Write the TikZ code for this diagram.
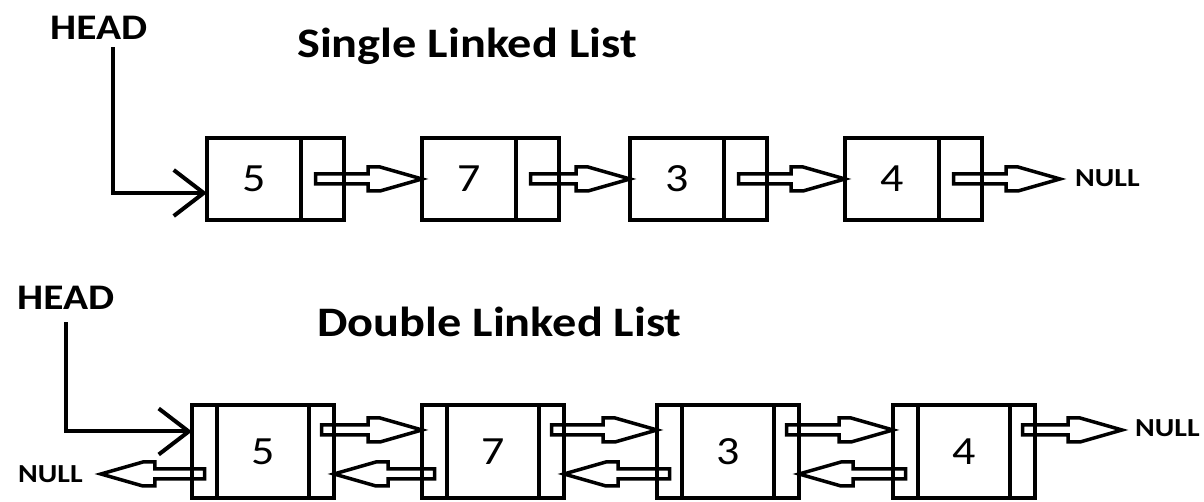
\documentclass[tikz,border=0pt]{standalone}
\usepackage{fontspec}
\setmainfont{Carlito}[FakeStretch=1.15]
\usetikzlibrary{positioning,calc,arrows.meta}

\tikzset{
  cell/.style={draw, line width=4pt, inner sep=0pt, outer sep=0pt,
    font=\fontsize{40}{44}\selectfont},
  sval/.style={cell, minimum width=94pt, minimum height=82pt, anchor=west},
  sptr/.style={cell, minimum width=43pt, minimum height=82pt},
  dval/.style={cell, minimum width=92pt, minimum height=93pt},
  dside/.style={cell, minimum width=25pt, minimum height=93pt, anchor=west},
  hd/.style={inner sep=0pt, anchor=base west, font=\bfseries\fontsize{36}{40}\selectfont},
  ttl/.style={inner sep=0pt, anchor=base west, font=\bfseries\fontsize{42}{46}\selectfont},
  nul/.style={inner sep=0pt, anchor=base west, font=\bfseries\fontsize{26}{30}\selectfont},
  headarrow/.style={draw, line width=4pt, -{Straight Barb[length=30pt,width=46pt]}},
  % hollow pointer arrow, horizontal, drawn at the height of its start
  ptr/.style={draw, line width=3.5pt, line join=miter,
    to path={let \p1=(\tikztostart), \p2=(\tikztotarget),
      \n1={ifthenelse(\x2>\x1,1,-1)} in
      (\x1,{\y1+5pt}) -- ({\x2-(\n1)*54pt},{\y1+5pt})
      -- ({\x2-(\n1)*54pt},{\y1+12pt}) -- ({\x2-(\n1)*42pt},{\y1+12pt})
      -- (\x2,\y1)
      -- ({\x2-(\n1)*42pt},{\y1-12pt}) -- ({\x2-(\n1)*54pt},{\y1-12pt})
      -- ({\x2-(\n1)*54pt},{\y1-5pt}) -- (\x1,{\y1-5pt}) -- cycle}},
}

\begin{document}
\begin{tikzpicture}[x=1pt, y=1pt]
  \useasboundingbox (0,0) rectangle (1204,502);

  % Single linked list
  \node[hd] (head1) at (50,462) {HEAD};
  \node[ttl] (title1) at (297,444) {Single Linked List};

  \node[sval] (s1) at (207,323) {5};
  \node[sptr, right=0pt of s1] (s1p) {};
  \node[sval] (s2) at (422,323) {7};
  \node[sptr, right=0pt of s2] (s2p) {};
  \node[sval] (s3) at (630,323) {3};
  \node[sptr, right=0pt of s3] (s3p) {};
  \node[sval] (s4) at (845,323) {4};
  \node[sptr, right=0pt of s4] (s4p) {};
  \node[nul] (null1) at (1075,315) {NULL};

  \draw[headarrow] ([xshift=14pt,yshift=-7pt]head1.south) |- ([yshift=-14pt]s1.west);
  \draw[ptr] ([xshift=-7pt]s1p.center) to (s2.west);
  \draw[ptr] ([xshift=-7pt]s2p.center) to (s3.west);
  \draw[ptr] ([xshift=-7pt]s3p.center) to (s4.west);
  \draw[ptr] ([xshift=-7pt]s4p.center) to ([xshift=-15pt]null1.west);

  % Double linked list
  \node[hd] (head2) at (17,192) {HEAD};
  \node[ttl] (title2) at (317,165) {Double Linked List};

  \node[dside] (d1l) at (192,50.5) {};
  \node[dval, right=0pt of d1l] (d1) {5};
  \node[dside, right=0pt of d1] (d1r) {};
  \node[dside] (d2l) at (422,50.5) {};
  \node[dval, right=0pt of d2l] (d2) {7};
  \node[dside, right=0pt of d2] (d2r) {};
  \node[dside] (d3l) at (657,50.5) {};
  \node[dval, right=0pt of d3l] (d3) {3};
  \node[dside, right=0pt of d3] (d3r) {};
  \node[dside] (d4l) at (893,50.5) {};
  \node[dval, right=0pt of d4l] (d4) {4};
  \node[dside, right=0pt of d4] (d4r) {};
  \node[nul] (null2) at (18,19) {NULL};
  \node[nul] (null3) at (1135,65) {NULL};

  \draw[headarrow] ([yshift=-12pt]head2.south) |- ([yshift=20pt]d1l.west);
  \draw[ptr] ([yshift=21.5pt]d1r.center) to (d2l.west);
  \draw[ptr] ([yshift=21.5pt]d2r.center) to (d3l.west);
  \draw[ptr] ([yshift=21.5pt]d3r.center) to (d4l.west);
  \draw[ptr] ([yshift=21.5pt]d4r.center) to ([xshift=-13pt]null3.west);
  \draw[ptr] ([yshift=-22.5pt]d2l.center) to (d1r.east);
  \draw[ptr] ([yshift=-22.5pt]d3l.center) to (d2r.east);
  \draw[ptr] ([yshift=-22.5pt]d4l.center) to (d3r.east);
  \draw[ptr] ([yshift=-22.5pt]d1l.center) to ([xshift=18pt]null2.east);
\end{tikzpicture}
\end{document}
